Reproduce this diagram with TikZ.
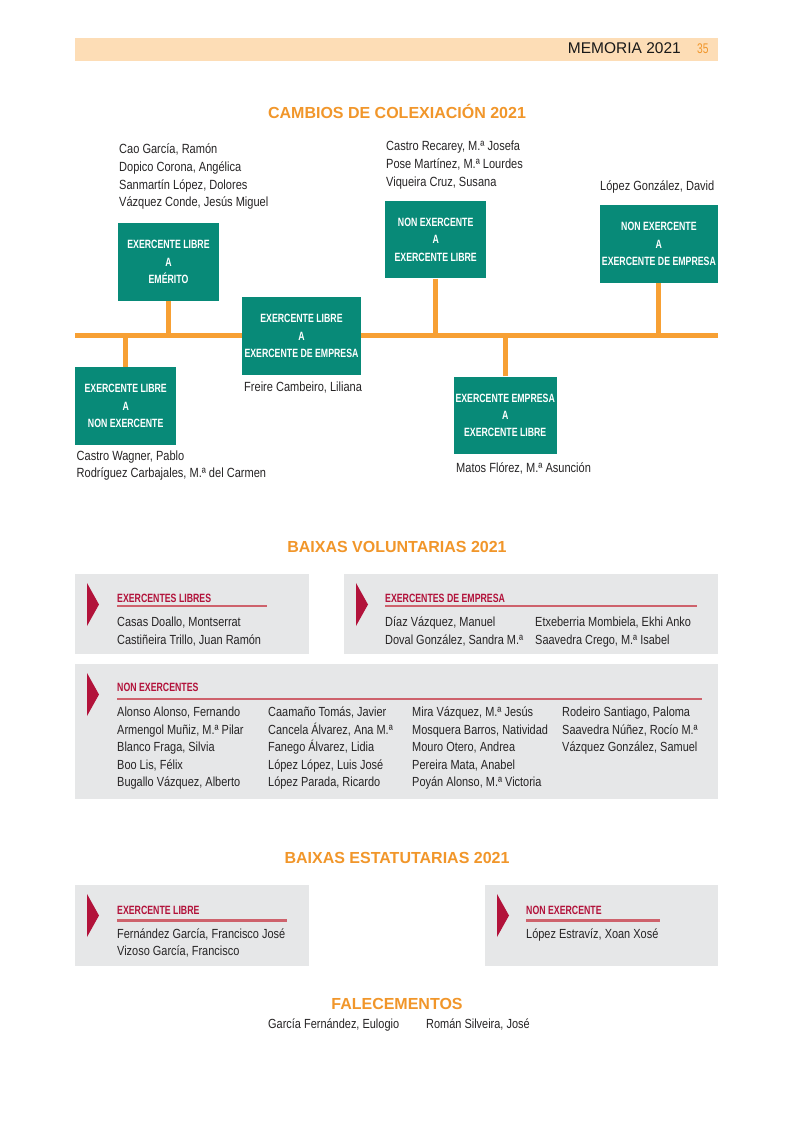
\documentclass[tikz,border=0pt]{standalone}
\usepackage{fontspec}
\setmainfont{Liberation Sans}
\newfontfamily\condf{Liberation Sans}[FakeStretch=0.83]
\newfontfamily\condbf{Liberation Sans}[FakeStretch=0.73]
\definecolor{tealbox}{RGB}{8,138,120}
\definecolor{lineorange}{RGB}{247,160,52}
\definecolor{ttlorange}{RGB}{241,150,42}
\definecolor{peach}{RGB}{253,221,182}
\definecolor{panelgrey}{RGB}{230,231,232}
\definecolor{crim}{RGB}{178,18,58}
\definecolor{ulred}{RGB}{206,98,108}
\definecolor{nametext}{RGB}{38,36,37}
\newcommand\redtri[2]{\fill[crim] (#1+12,#2+9) -- (#1+24,#2+30.5) -- (#1+12,#2+52) -- cycle;}
\begin{document}
\begin{tikzpicture}[x=1pt,y=-1pt,
  gbox/.style={fill=tealbox, text=white, font=\condbf\bfseries\fontsize{12}{17.4}\selectfont, align=center, inner sep=0pt, minimum height=77.5pt},
  tline/.style={draw=lineorange, line width=5pt},
  nm/.style={anchor=base west, inner sep=0pt, text=nametext, font=\condf\fontsize{13.3}{16}\selectfont},
  pnm/.style={anchor=base west, inner sep=0pt, text=nametext, font=\condf\fontsize{13.2}{15}\selectfont},
  ttl/.style={anchor=base, inner sep=0pt, text=ttlorange, font=\bfseries\fontsize{16}{19}\selectfont},
  phead/.style={anchor=base west, inner sep=0pt, text=crim, font=\condbf\bfseries\fontsize{12}{14}\selectfont},
  panel/.style={fill=panelgrey},
  uline/.style={draw=ulred, line width=2.6pt}
]
\useasboundingbox[fill=white] (0,0) rectangle (794,1123);

% header band
\fill[peach] (75,38) rectangle (718,61);
\node[anchor=base east, inner sep=0pt, text=black!90, font=\fontsize{15.5}{18}\selectfont] (memo) at (681,54) {MEMORIA 2021};
\node[anchor=base west, inner sep=0pt, text=ttlorange, font=\condbf\fontsize{14}{16}\selectfont] (pg) at (697,54) {35};

% ---------- CAMBIOS ----------
\node[ttl] (t1) at (397,118.7) {CAMBIOS DE COLEXIACIÓN 2021};

\coordinate (tl) at (75.3,335.8);
\coordinate (tr) at (718.3,335.8);
\draw[tline] (tl) -- (tr);

\node[gbox, minimum width=100.4pt] (b1) at (168.5,262) {EXERCENTE LIBRE\\A\\EMÉRITO};
\node[gbox, minimum width=118.4pt] (b2) at (301.5,336.2) {EXERCENTE LIBRE\\A\\EXERCENTE DE EMPRESA};
\node[gbox, minimum width=100.7pt] (b3) at (435.7,239.7) {NON EXERCENTE\\A\\EXERCENTE LIBRE};
\node[gbox, minimum width=117.7pt] (b4) at (658.9,243.9) {NON EXERCENTE\\A\\EXERCENTE DE EMPRESA};
\node[gbox, minimum width=100.7pt] (b5) at (125.7,406.2) {EXERCENTE LIBRE\\A\\NON EXERCENTE};
\node[gbox, minimum width=103pt] (b6) at (505.2,415.4) {EXERCENTE EMPRESA\\A\\EXERCENTE LIBRE};

\draw[tline] (b1.south) -- (b1.south |- tl);
\draw[tline] (b3.south) -- (b3.south |- tl);
\draw[tline] (b4.south) -- (b4.south |- tl);
\draw[tline] (b5.north) -- (b5.north |- tl);
\draw[tline] (b6.north) -- (b6.north |- tl);

\node[nm] (n1a) at (119,153.5) {Cao García, Ramón};
\node[nm] (n1b) at (119,171.3) {Dopico Corona, Angélica};
\node[nm] (n1c) at (119,189.2) {Sanmartín López, Dolores};
\node[nm] (n1d) at (119,207) {Vázquez Conde, Jesús Miguel};

\node[nm] (n3a) at (386,150.7) {Castro Recarey, M.ª Josefa};
\node[nm] (n3b) at (386,168.5) {Pose Martínez, M.ª Lourdes};
\node[nm] (n3c) at (386,186.3) {Viqueira Cruz, Susana};

\node[nm] (n4a) at (600,191) {López González, David};
\node[nm] (n2a) at (244,391.7) {Freire Cambeiro, Liliana};
\node[nm] (n5a) at (76.5,460) {Castro Wagner, Pablo};
\node[nm] (n5b) at (76.5,477.7) {Rodríguez Carbajales, M.ª del Carmen};
\node[nm] (n6a) at (456,472.7) {Matos Flórez, M.ª Asunción};

% ---------- BAIXAS VOLUNTARIAS ----------
\node[ttl] (t2) at (397,552.7) {BAIXAS VOLUNTARIAS 2021};

\fill[panel] (75,574) rectangle (309,654);
\redtri{75}{574}
\node[phead] (hA) at (117,602.3) {EXERCENTES LIBRES};
\draw[uline] (117,606) -- (267,606);
\node[pnm] (pa1) at (117,626.5) {Casas Doallo, Montserrat};
\node[pnm] (pa2) at (117,644.5) {Castiñeira Trillo, Juan Ramón};

\fill[panel] (344,574) rectangle (718,654);
\redtri{344}{574}
\node[phead] (hB) at (385,602.3) {EXERCENTES DE EMPRESA};
\draw[uline] (385,606) -- (697,606);
\node[pnm] (pb1) at (385,626.5) {Díaz Vázquez, Manuel};
\node[pnm] (pb2) at (385,644.5) {Doval González, Sandra M.ª};
\node[pnm] (pb3) at (535,626.5) {Etxeberria Mombiela, Ekhi Anko};
\node[pnm] (pb4) at (535,644.5) {Saavedra Crego, M.ª Isabel};

\fill[panel] (75,664) rectangle (718,799);
\redtri{75}{664}
\node[phead] (hC) at (117,691) {NON EXERCENTES};
\draw[uline] (117,699) -- (702,699);
\node[pnm] (c11) at (117,716.5) {Alonso Alonso, Fernando};
\node[pnm] (c12) at (117,734) {Armengol Muñiz, M.ª Pilar};
\node[pnm] (c13) at (117,751.5) {Blanco Fraga, Silvia};
\node[pnm] (c14) at (117,769) {Boo Lis, Félix};
\node[pnm] (c15) at (117,786.5) {Bugallo Vázquez, Alberto};
\node[pnm] (c21) at (268,716.5) {Caamaño Tomás, Javier};
\node[pnm] (c22) at (268,734) {Cancela Álvarez, Ana M.ª};
\node[pnm] (c23) at (268,751.5) {Fanego Álvarez, Lidia};
\node[pnm] (c24) at (268,769) {López López, Luis José};
\node[pnm] (c25) at (268,786.5) {López Parada, Ricardo};
\node[pnm] (c31) at (412,716.5) {Mira Vázquez, M.ª Jesús};
\node[pnm] (c32) at (412,734) {Mosquera Barros, Natividad};
\node[pnm] (c33) at (412,751.5) {Mouro Otero, Andrea};
\node[pnm] (c34) at (412,769) {Pereira Mata, Anabel};
\node[pnm] (c35) at (412,786.5) {Poyán Alonso, M.ª Victoria};
\node[pnm] (c41) at (562,716.5) {Rodeiro Santiago, Paloma};
\node[pnm] (c42) at (562,734) {Saavedra Núñez, Rocío M.ª};
\node[pnm] (c43) at (562,751.5) {Vázquez González, Samuel};

% ---------- BAIXAS ESTATUTARIAS ----------
\node[ttl] (t3) at (397,863.7) {BAIXAS ESTATUTARIAS 2021};

\fill[panel] (75,885) rectangle (309,966);
\redtri{75}{885}
\node[phead] (hD) at (117,914.3) {EXERCENTE LIBRE};
\draw[uline] (117,920.5) -- (287,920.5);
\node[pnm] (d1) at (117,938.5) {Fernández García, Francisco José};
\node[pnm] (d2) at (117,955.5) {Vizoso García, Francisco};

\fill[panel] (485,885) rectangle (718,966);
\redtri{485}{885}
\node[phead] (hE) at (526,914.3) {NON EXERCENTE};
\draw[uline] (526,920.5) -- (660,920.5);
\node[pnm] (e1) at (526,938.5) {López Estravíz, Xoan Xosé};

% ---------- FALECEMENTOS ----------
\node[ttl] (t4) at (397,1009.7) {FALECEMENTOS};
\node[pnm] (f1) at (268,1028.5) {García Fernández, Eulogio};
\node[pnm] (f2) at (426,1028.5) {Román Silveira, José};
\end{tikzpicture}
\end{document}
